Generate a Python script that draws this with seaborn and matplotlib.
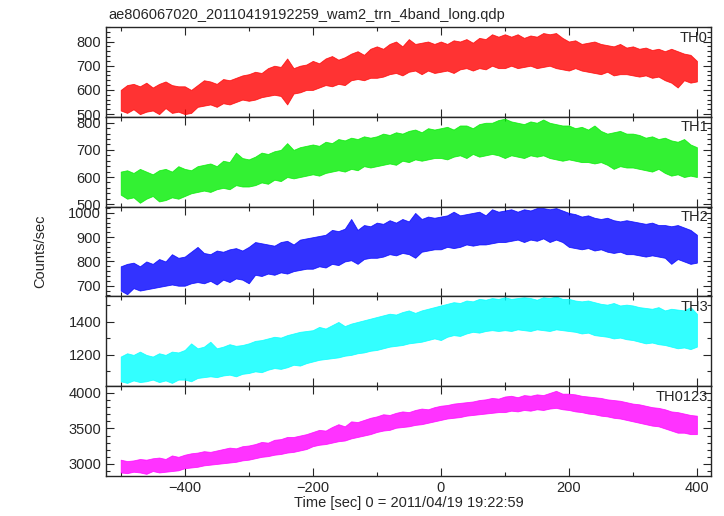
import numpy as np
import pandas as pd
import seaborn as sns
import matplotlib.pyplot as plt
from matplotlib.ticker import MultipleLocator

# time grid of the light curve (sec from 2011/04/19 19:22:59), 10 s steps
time = list(range(-500, 401, 10))

# band edges (low / high counts/sec), one value per 10 s
th0_lo = [515, 505, 520, 500, 510, 515, 500, 525, 505, 510,
          500, 505, 530, 535, 540, 530, 545, 540, 550, 560,
          555, 560, 570, 575, 580, 575, 540, 585, 590, 600,
          600, 610, 620, 615, 625, 620, 640, 645, 640, 650,
          650, 655, 665, 670, 660, 675, 680, 665, 680, 670,
          675, 680, 670, 685, 690, 680, 690, 685, 700, 690,
          690, 700, 690, 695, 700, 690, 695, 700, 690, 685,
          680, 690, 680, 675, 670, 665, 675, 660, 665, 665,
          660, 655, 660, 650, 655, 640, 630, 610, 640, 630,
          635]
th0_hi = [600, 620, 625, 615, 630, 610, 625, 635, 620, 615,
          615, 600, 620, 640, 635, 625, 645, 640, 650, 660,
          665, 675, 670, 690, 700, 695, 730, 690, 700, 705,
          720, 710, 730, 740, 725, 735, 750, 760, 745, 770,
          780, 770, 790, 800, 780, 810, 790, 795, 800, 790,
          800, 790, 805, 800, 810, 795, 815, 810, 830, 820,
          830, 820, 830, 815, 825, 820, 835, 830, 835, 815,
          800, 805, 790, 795, 800, 790, 785, 780, 790, 775,
          780, 770, 775, 765, 770, 760, 770, 760, 750, 745,
          720]

th1_lo = [535, 520, 525, 505, 520, 530, 510, 515, 525, 520,
          530, 540, 545, 550, 545, 555, 560, 555, 570, 565,
          565, 570, 580, 575, 590, 585, 600, 595, 600, 605,
          610, 605, 615, 620, 625, 620, 630, 625, 640, 635,
          640, 645, 650, 645, 660, 655, 665, 660, 665, 670,
          670, 665, 675, 680, 670, 685, 675, 680, 685, 680,
          670, 680, 675, 670, 680, 675, 680, 670, 665, 660,
          665, 660, 655, 655, 650, 655, 645, 630, 640, 635,
          635, 630, 625, 620, 630, 615, 605, 610, 600, 605,
          600]
th1_hi = [620, 625, 615, 630, 620, 610, 625, 630, 620, 640,
          630, 625, 640, 645, 650, 640, 660, 655, 690, 670,
          665, 675, 690, 685, 695, 700, 725, 700, 710, 715,
          720, 715, 730, 725, 740, 735, 745, 740, 750, 745,
          750, 760, 755, 765, 760, 770, 775, 765, 780, 775,
          780, 785, 775, 790, 790, 780, 795, 800, 800, 810,
          815, 805, 800, 795, 805, 800, 812, 800, 795, 790,
          790, 780, 785, 775, 790, 770, 760, 765, 770, 760,
          760, 755, 745, 750, 740, 745, 735, 730, 740, 720,
          710]

th2_lo = [680, 665, 690, 680, 685, 690, 695, 700, 705, 700,
          700, 710, 715, 710, 720, 705, 725, 715, 730, 725,
          710, 745, 740, 750, 745, 755, 750, 760, 765, 770,
          770, 780, 775, 790, 785, 800, 805, 790, 810, 815,
          815, 820, 830, 825, 835, 830, 815, 840, 845, 850,
          850, 860, 855, 860, 870, 865, 870, 870, 875, 880,
          880, 885, 890, 880, 890, 885, 895, 880, 890, 880,
          860, 855, 850, 855, 845, 850, 840, 835, 840, 830,
          830, 825, 820, 825, 820, 815, 790, 810, 800, 790,
          795]
th2_hi = [780, 790, 795, 780, 800, 790, 810, 800, 830, 815,
          820, 840, 860, 835, 830, 845, 840, 850, 855, 845,
          860, 880, 875, 870, 865, 880, 885, 870, 890, 895,
          900, 905, 910, 930, 925, 935, 975, 930, 950, 945,
          960, 955, 970, 960, 975, 965, 1000, 975, 985, 980,
          985, 990, 1005, 990, 995, 1000, 1005, 990, 1015, 1005,
          1010, 1015, 1005, 1015, 1010, 1020, 1020, 1015, 1020, 1010,
          1000, 995, 985, 990, 980, 975, 980, 970, 965, 970,
          965, 960, 955, 960, 950, 950, 945, 950, 940, 930,
          910]

th3_lo = [1040, 1030, 1045, 1035, 1040, 1050, 1035, 1045, 1030, 1050,
          1050, 1040, 1060, 1065, 1070, 1065, 1075, 1080, 1070, 1085,
          1090, 1100, 1095, 1110, 1120, 1115, 1125, 1140, 1135, 1150,
          1160, 1170, 1175, 1180, 1185, 1195, 1200, 1210, 1215, 1225,
          1230, 1240, 1250, 1255, 1260, 1270, 1275, 1280, 1290, 1300,
          1290, 1310, 1320, 1315, 1330, 1340, 1335, 1345, 1350, 1345,
          1350, 1345, 1355, 1350, 1345, 1355, 1350, 1345, 1355, 1350,
          1345, 1340, 1330, 1335, 1320, 1315, 1310, 1300, 1305, 1295,
          1290, 1280, 1270, 1275, 1265, 1260, 1250, 1240, 1245, 1235,
          1250]
th3_hi = [1190, 1210, 1200, 1220, 1200, 1190, 1210, 1200, 1220, 1215,
          1230, 1270, 1240, 1250, 1280, 1240, 1250, 1265, 1255, 1260,
          1270, 1285, 1290, 1300, 1310, 1305, 1320, 1330, 1340, 1345,
          1350, 1370, 1360, 1380, 1400, 1375, 1390, 1400, 1410, 1420,
          1430, 1440, 1450, 1445, 1460, 1470, 1455, 1470, 1480, 1490,
          1500, 1510, 1520, 1515, 1530, 1525, 1540, 1535, 1545, 1540,
          1550, 1540, 1545, 1550, 1545, 1535, 1550, 1545, 1555, 1540,
          1540, 1530, 1525, 1530, 1520, 1510, 1505, 1515, 1500, 1505,
          1500, 1490, 1485, 1480, 1490, 1470, 1480, 1475, 1470, 1490,
          1450]

th0123_lo = [2880, 2870, 2890, 2880, 2860, 2900, 2880, 2890, 2900, 2910,
             2940, 2950, 2960, 2980, 2990, 3000, 3010, 3020, 3030, 3050,
             3060, 3080, 3100, 3110, 3130, 3140, 3160, 3170, 3190, 3210,
             3250, 3270, 3280, 3300, 3320, 3330, 3360, 3380, 3400, 3420,
             3450, 3470, 3480, 3510, 3520, 3530, 3550, 3560, 3580, 3600,
             3620, 3640, 3650, 3660, 3680, 3690, 3700, 3710, 3720, 3730,
             3730, 3750, 3740, 3760, 3750, 3770, 3760, 3780, 3790, 3770,
             3760, 3740, 3730, 3710, 3700, 3680, 3670, 3650, 3640, 3620,
             3600, 3580, 3560, 3540, 3530, 3500, 3470, 3440, 3440, 3420,
             3420]
th0123_hi = [3060, 3040, 3050, 3070, 3060, 3080, 3090, 3070, 3120, 3100,
             3130, 3150, 3160, 3180, 3170, 3190, 3210, 3230, 3220, 3250,
             3260, 3280, 3310, 3300, 3340, 3350, 3380, 3380, 3400, 3420,
             3450, 3480, 3470, 3520, 3560, 3530, 3600, 3590, 3620, 3650,
             3670, 3700, 3690, 3720, 3740, 3730, 3760, 3780, 3770, 3800,
             3820, 3830, 3850, 3860, 3870, 3880, 3900, 3910, 3930, 3920,
             3950, 3960, 3940, 3970, 3960, 3980, 3970, 4000, 4030, 3990,
             3990, 3980, 3960, 3950, 3940, 3930, 3910, 3900, 3890, 3870,
             3850, 3840, 3820, 3800, 3790, 3770, 3740, 3730, 3710, 3690,
             3680]

bands = ["TH0", "TH1", "TH2", "TH3", "TH0123"]
lows = [th0_lo, th1_lo, th2_lo, th3_lo, th0123_lo]
highs = [th0_hi, th1_hi, th2_hi, th3_hi, th0123_hi]
colors = ["#ff0000", "#00ee00", "#0000ff", "#00ffff", "#ff00ff"]
ylims = [(489, 860), (491, 822), (656, 1026), (1010, 1555), (2830, 4095)]
major = [100, 100, 100, 200, 500]
minor = [20, 20, 20, 100, 100]

sns.set_style("ticks")
plt.rcParams['font.family'] = ['Liberation Sans', 'DejaVu Sans']
plt.rcParams['font.size'] = 10.5

fig, axes = plt.subplots(5, 1, sharex=True, figsize=(7.24, 5.16), dpi=100)
fig.subplots_adjust(left=0.1464, right=0.982, top=0.9477, bottom=0.0775, hspace=0)

for ax, name, lo, hi, c, yl, mj, mn in zip(axes, bands, lows, highs, colors, ylims, major, minor):
    # two observations per time bin -> seaborn draws the min/max band
    df = pd.DataFrame({'time': time + time, 'rate': lo + hi})
    sns.lineplot(data=df, x='time', y='rate', estimator='mean', errorbar=('pi', 100),
                 color=c, linewidth=0, ax=ax,
                 err_kws={'alpha': 0.8, 'linewidth': 0.6, 'edgecolor': c})
    ax.set_ylim(*yl)
    ax.set_xlim(-523, 422)
    ax.yaxis.set_major_locator(MultipleLocator(mj))
    ax.yaxis.set_minor_locator(MultipleLocator(mn))
    ax.xaxis.set_major_locator(MultipleLocator(200))
    ax.xaxis.set_minor_locator(MultipleLocator(100))
    ax.tick_params(which='both', direction='in', top=True, right=True, labelsize=10.5)
    ax.tick_params(which='major', length=6, width=0.8)
    ax.tick_params(which='minor', length=3, width=0.8)
    ax.set_xlabel('')
    ax.set_ylabel('')
    for s in ax.spines.values():
        s.set_linewidth(1.0)
    ax.text(0.995, 0.96, name, transform=ax.transAxes, ha='right', va='top', fontsize=10.5)

axes[-1].set_xlabel("Time [sec] 0 = 2011/04/19 19:22:59", fontsize=10.5, labelpad=1)
fig.text(0.055, 0.5126, "Counts/sec", rotation=90, ha='center', va='center', fontsize=10.5)
fig.text(0.149, 0.97, "ae806067020_20110419192259_wam2_trn_4band_long.qdp",
         ha='left', va='center', fontsize=10.5)

plt.savefig("out.png", dpi=100)
